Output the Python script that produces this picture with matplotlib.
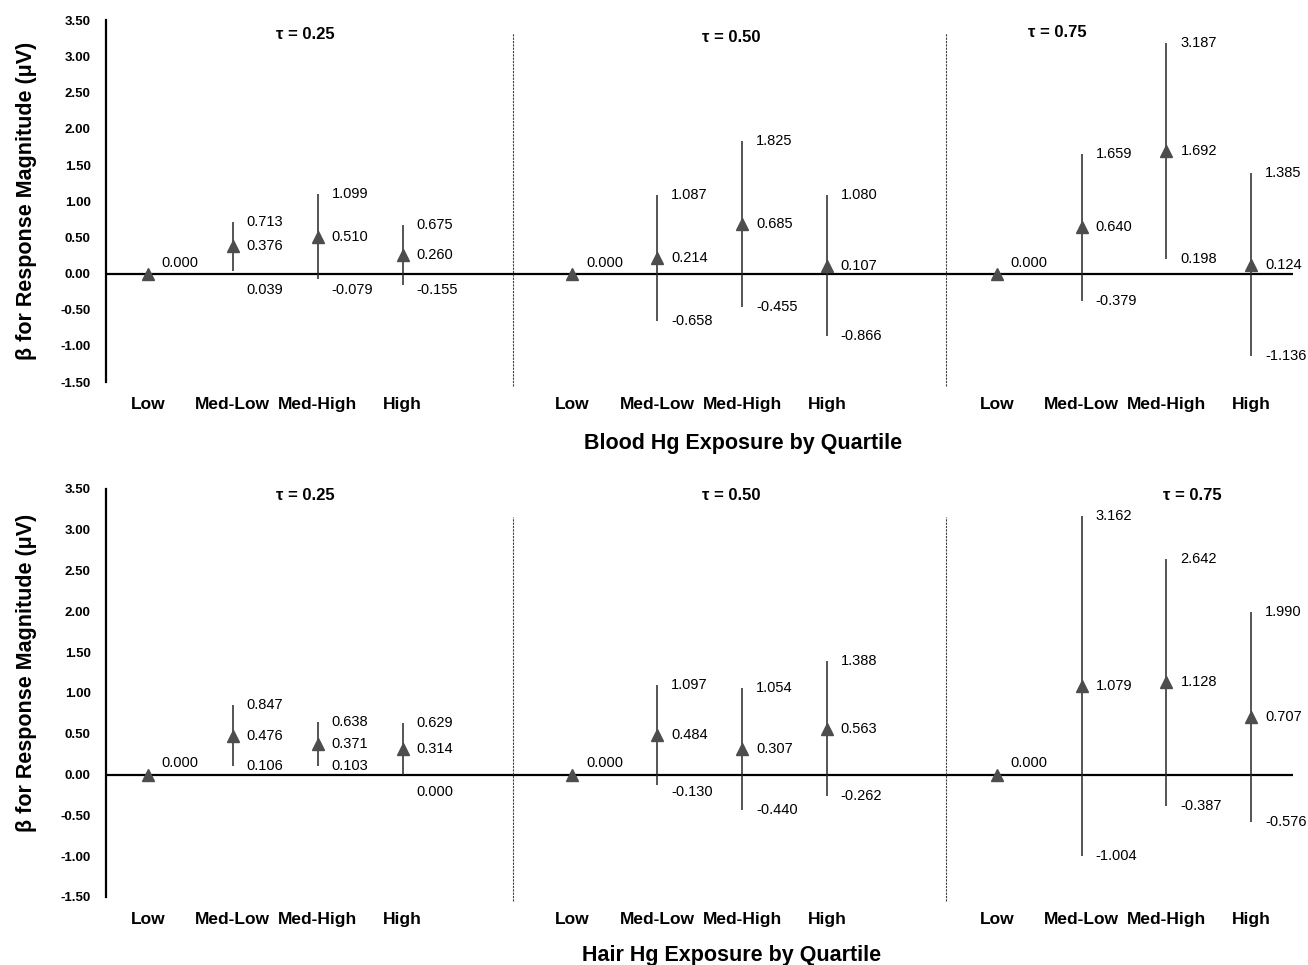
import numpy as np
import matplotlib
matplotlib.use('Agg')
import matplotlib.pyplot as plt

plt.rcParams['font.family'] = ['Liberation Sans', 'DejaVu Sans']

# categories / groups
quartiles = ['Low', 'Med-Low', 'Med-High', 'High']
taus = ['τ = 0.25', 'τ = 0.50', 'τ = 0.75']
nan = np.nan

# Blood Hg: estimate, lower, upper for each tau (Low is reference)
blood_est = [[0.000, 0.376, 0.510, 0.260],
             [0.000, 0.214, 0.685, 0.107],
             [0.000, 0.640, 1.692, 0.124]]
blood_lo = [[nan, 0.039, -0.079, -0.155],
            [nan, -0.658, -0.455, -0.866],
            [nan, -0.379, 0.198, -1.136]]
blood_hi = [[nan, 0.713, 1.099, 0.675],
            [nan, 1.087, 1.825, 1.080],
            [nan, 1.659, 3.187, 1.385]]

# Hair Hg
hair_est = [[0.000, 0.476, 0.371, 0.314],
            [0.000, 0.484, 0.307, 0.563],
            [0.000, 1.079, 1.128, 0.707]]
hair_lo = [[nan, 0.106, 0.103, 0.000],
           [nan, -0.130, -0.440, -0.262],
           [nan, -1.004, -0.387, -0.576]]
hair_hi = [[nan, 0.847, 0.638, 0.629],
           [nan, 1.097, 1.054, 1.388],
           [nan, 3.162, 2.642, 1.990]]

yticks = np.arange(-1.5, 3.51, 0.5)

fig = plt.figure(figsize=(13.08, 9.65), dpi=100)
ax1 = fig.add_axes([0.081, 0.604, 0.9075, 0.375])
ax2 = fig.add_axes([0.081, 0.0705, 0.9075, 0.423])

panels = [
    (ax1, blood_est, blood_lo, blood_hi, 'Blood Hg Exposure by Quartile',
     [(1.85, 3.31), (6.87, 3.26), (10.71, 3.33)], (0.537, -0.141), 0.5, 3.32),
    (ax2, hair_est, hair_lo, hair_hi, 'Hair Hg Exposure by Quartile',
     [(1.85, 3.42), (6.87, 3.42), (12.3, 3.42)], (0.527, -0.118), 0.55, 3.15),
]

for ax, est, lo, hi, xlab, tau_pos, xl_pos, yl_pos, dash_top in panels:
    xs_all = []
    for g in range(3):
        xs = np.arange(4) + g * 5
        xs_all.extend(xs)
        e = np.array(est[g]); l = np.array(lo[g]); h = np.array(hi[g])
        ax.vlines(xs, l, h, color='#262626', lw=1.1, zorder=2)
        ax.plot(xs, e, ls='none', marker='^', ms=8, color='#4d4d4d',
                mec='#4d4d4d', zorder=3)
        for x, ev, lv, hv in zip(xs, e, l, h):
            ey = ev + 0.14 if ev == 0 else ev
            ax.annotate('%.3f' % ev, (x, ey), xytext=(10, 0), textcoords='offset points',
                        ha='left', va='center', fontsize=10.5)
            if not np.isnan(hv):
                ax.annotate('%.3f' % hv, (x, hv), xytext=(10, 0), textcoords='offset points',
                            ha='left', va='center', fontsize=10.5)
            if not np.isnan(lv):
                ly = lv if (lv > 0.05 or lv < -0.2) else -0.22
                ax.annotate('%.3f' % lv, (x, ly), xytext=(10, 0), textcoords='offset points',
                            ha='left', va='center', fontsize=10.5)
        ax.text(tau_pos[g][0], tau_pos[g][1], taus[g], ha='center', va='center',
                fontsize=12, fontweight='bold')

    # group separators
    for sx in [4.3, 9.4]:
        ax.plot([sx, sx], [-1.55, dash_top], color='#404040', lw=0.8,
                ls=(0, (2, 1)), clip_on=False)

    ax.axhline(0, color='black', lw=1.6, zorder=1)
    ax.set_xlim(-0.495, 13.49)
    ax.set_ylim(-1.5, 3.5)
    ax.set_yticks(yticks)
    ax.set_yticklabels(['%.2f' % t for t in yticks], fontsize=9.5, fontweight='bold')
    ax.set_xticks(xs_all)
    ax.set_xticklabels(quartiles * 3, fontsize=12.5, fontweight='bold')
    ax.tick_params(axis='y', length=0, pad=11)
    ax.tick_params(axis='x', length=0, pad=11)
    for s in ['top', 'right', 'bottom']:
        ax.spines[s].set_visible(False)
    ax.spines['left'].set_linewidth(1.6)
    ax.set_xlabel(xlab, fontsize=15.5, fontweight='bold')
    ax.xaxis.set_label_coords(*xl_pos)
    ax.set_ylabel('β for Response Magnitude (μV)', fontsize=15.5, fontweight='bold')
    ax.yaxis.set_label_coords(-0.058, yl_pos)

fig.savefig('out.png', dpi=100)
